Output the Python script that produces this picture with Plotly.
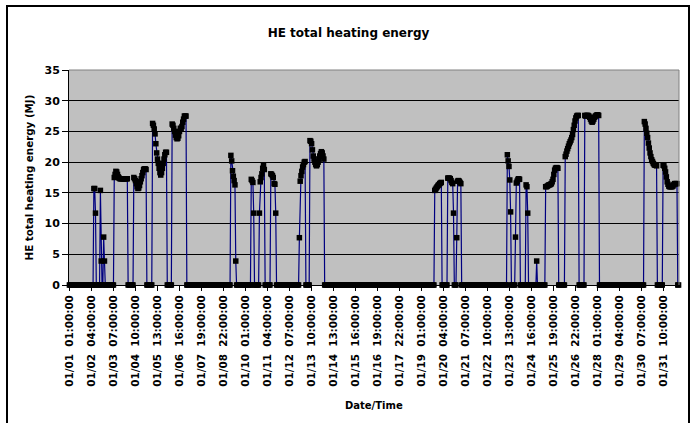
import pandas as pd
import plotly.graph_objects as go

# ---- data (hourly HE total heating energy, MJ) ----
n_hours = 748
times = pd.date_range("2001-01-01 01:00", periods=n_hours, freq="h")
label_step = 27

# heating periods: start hour index -> hourly values (all other hours are 0)
block_starts = [30, 38, 55, 79, 102, 126, 198, 223, 233, 247, 282, 295,
                448, 464, 537, 547, 560, 573, 584, 608, 632, 705, 728]
block_values = [
    [15.7, 15.7, 11.7],
    [15.4, 3.9, 0, 0, 7.8, 3.9],
    [17.5, 18.0, 18.5, 18.4, 18.0, 17.6, 17.4, 17.3, 17.3, 17.3, 17.3, 17.3, 17.3, 17.3, 17.3, 17.3, 17.3],
    [17.5, 17.3, 17.0, 16.5, 16.0, 15.7, 15.8, 16.2, 16.8, 17.3, 17.8, 18.3, 18.8, 18.9, 18.9, 18.8],
    [26.3, 26.0, 25.4, 24.6, 23.0, 21.5, 20.5, 19.8, 19.0, 18.3, 17.9, 18.3, 19.0, 19.8, 20.5, 21.2, 21.6, 21.6],
    [26.2, 26.0, 25.5, 25.0, 24.4, 24.0, 23.8, 23.9, 24.3, 25.0, 25.5, 25.5, 25.8, 26.5, 27.0, 27.5, 27.5, 27.5],
    [21.1, 20.2, 18.6, 17.7, 17.0, 16.3, 3.9],
    [17.2, 17.0, 16.7, 11.7],
    [11.7, 16.8, 17.5, 18.1, 19.0, 19.5, 18.8],
    [18.1, 18.0, 17.8, 17.5, 16.5, 16.4, 11.7],
    [7.7, 16.9, 17.8, 18.5, 19.2, 19.6, 20.0, 20.1],
    [23.5, 23.4, 23.0, 22.0, 21.0, 20.5, 20.0, 19.6, 19.4, 19.6, 20.0, 20.5, 21.0, 21.4, 21.7, 21.5, 21.0, 20.5],
    [15.4, 15.6, 15.8, 16.0, 16.2, 16.3, 16.5, 16.6, 16.7],
    [17.4, 17.4, 17.4, 17.3, 17.0, 16.7, 16.5, 11.7, 0, 0, 0, 7.7, 16.9, 17.0, 16.9, 16.7, 16.5],
    [21.2, 20.2, 19.3, 17.1, 11.9],
    [7.8, 16.6, 16.9, 17.2, 17.3, 17.2],
    [16.3, 16.0, 11.7],
    [3.9],
    [16.0, 16.0, 16.1, 16.2, 16.3, 16.3, 16.4, 16.5, 16.8, 17.2, 18.0, 18.7, 19.0, 19.1, 19.1, 19.0],
    [20.9, 21.3, 21.8, 22.2, 22.6, 23.0, 23.3, 23.6, 24.0, 24.5, 25.3, 26.0, 26.7, 27.2, 27.5, 27.6, 27.6],
    [27.6, 27.5, 27.6, 27.6, 27.6, 27.5, 27.3, 27.0, 26.7, 26.5, 26.7, 27.0, 27.3, 27.5, 27.6, 27.7, 27.7, 27.6],
    [26.6, 26.2, 25.5, 24.7, 24.0, 23.1, 22.3, 21.5, 20.9, 20.4, 20.1, 19.8, 19.6, 19.5, 19.5, 19.4],
    [19.5, 19.4, 19.0, 18.4, 17.6, 16.8, 16.4, 16.1, 16.0, 16.0, 16.0, 16.0, 16.1, 16.3, 16.5, 16.5, 16.5, 16.5],
]

energy = [0.0] * n_hours
for s, vals in zip(block_starts, block_values):
    for k, v in enumerate(vals):
        energy[s + k] = v

hour_index = list(range(n_hours))
labels = [t.strftime("%m/%d") + "\u00a0\u00a0" + t.strftime("%H:%M:%S") for t in times]
tick_idx = hour_index[::label_step]
tick_txt = labels[::label_step]

FONT = "DejaVu Sans"

fig = go.Figure()
fig.add_trace(go.Scatter(
    x=hour_index, y=energy, mode="lines+markers",
    line=dict(color="#000080", width=1.2),
    marker=dict(symbol="square", size=5.5, color="black", line=dict(width=0)),
    cliponaxis=False, showlegend=False,
))

W, H = 691, 423
L, R, T, B = 69, 12, 70, 138
pw, ph = W - L - R, H - T - B

def px_x(p):
    return (p - L) / pw

def px_y(p):
    return (H - B - p) / ph

fig.update_layout(
    width=W, height=H,
    margin=dict(l=L, r=R, t=T, b=B, pad=0),
    paper_bgcolor="white", plot_bgcolor="#C0C0C0",
    title=dict(text="HE total heating energy", x=348.5 / W, xref="container", xanchor="center",
               y=1 - 32.5 / H, yref="container", yanchor="middle",
               font=dict(family=FONT, size=12, weight="bold", color="black")),
    xaxis=dict(
        range=[-0.5, n_hours - 0.5], tickmode="array", tickvals=tick_idx, ticktext=tick_txt,
        tickangle=-90, tickfont=dict(family=FONT, size=10.4, weight="bold", color="black"),
        ticks="outside", ticklen=5, tickcolor="black", showgrid=False, zeroline=False,
        showline=True, linecolor="black", linewidth=1,
    ),
    yaxis=dict(
        range=[0, 35], dtick=5, tick0=0,
        tickfont=dict(family=FONT, size=11, weight="bold", color="black"),
        ticks="outside", ticklen=6, tickcolor="black",
        showgrid=True, gridcolor="black", gridwidth=1, zeroline=False,
        showline=True, linecolor="black", linewidth=1,
        title=dict(text="HE total heating energy (MJ)", standoff=8,
                   font=dict(family=FONT, size=10.3, weight="bold", color="black")),
    ),
    annotations=[dict(text="Date/Time", xref="paper", yref="paper", x=0.5, y=px_y(405),
                      xanchor="center", yanchor="middle", showarrow=False,
                      font=dict(family=FONT, size=10, weight="bold", color="black"))],
    shapes=[
        dict(type="line", xref="paper", yref="paper", x0=0, x1=1, y0=1, y1=1,
             line=dict(color="#808080", width=1), layer="above"),
        dict(type="line", xref="paper", yref="paper", x0=1, x1=1, y0=0, y1=1,
             line=dict(color="#808080", width=1), layer="above"),
        dict(type="rect", xref="paper", yref="paper", x0=px_x(7), x1=px_x(689),
             y0=px_y(440), y1=px_y(6), line=dict(color="black", width=2),
             fillcolor="rgba(0,0,0,0)", layer="below"),
    ],
)

fig.write_html("out.html")
